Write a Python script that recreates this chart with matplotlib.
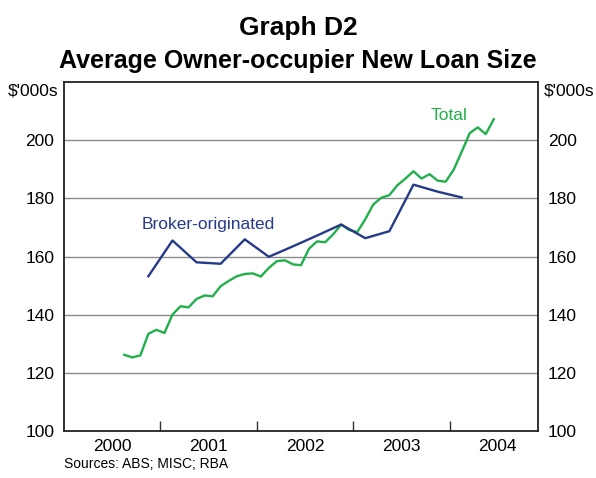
import numpy as np
import pandas as pd
import matplotlib
matplotlib.use("Agg")
from matplotlib import pyplot as plt

plt.rcParams['font.family'] = ['Liberation Sans', 'DejaVu Sans']

# Monthly average loan size, all owner-occupier loans ($'000s)
total_months = pd.period_range('2000-08', '2004-06', freq='M')
total_values = [126.2, 125.3, 126.0, 133.4, 134.8,
                133.7, 140.0, 142.9, 142.5, 145.4, 146.6, 146.3, 149.8, 151.6, 153.2, 154.0, 154.2,
                153.1, 156.1, 158.4, 158.7, 157.3, 157.0, 162.7, 165.2, 164.9, 167.6, 171.0, 169.1,
                168.4, 172.8, 177.9, 180.2, 181.1, 184.5, 186.8, 189.3, 186.8, 188.3, 186.1, 185.7,
                189.8, 196.0, 202.4, 204.4, 202.1, 207.2]

# Quarterly broker-originated loans, plotted at mid-quarter month
broker_months = pd.period_range('2000-11', '2004-02', freq='3M')
broker_values = [153.2, 165.5, 158.0, 157.5, 165.9, 159.9, 163.5,
                 167.2, 171.0, 166.3, 168.7, 184.7, 182.3, 180.3]

years = [2000, 2001, 2002, 2003, 2004]
y_ticks = [100, 120, 140, 160, 180, 200]


def to_x(periods):
    return np.array([p.year + (p.month - 0.5) / 12 for p in periods])


green = '#21b04b'
navy = '#263a8a'

fig = plt.figure(figsize=(5.96, 4.78), dpi=100)
ax = fig.add_axes([64 / 596, 47 / 478, 474 / 596, 349 / 478])

ax.plot(to_x(total_months), total_values, color=green, lw=1.7)
ax.plot(to_x(broker_months), broker_values, color=navy, lw=1.7)

ax.set_xlim(2000, 2000 + 59 / 12)
ax.set_ylim(100, 220)

for v in [120, 140, 160, 180, 200]:
    ax.axhline(v, color='#8a8a8a', lw=1.0, zorder=0)

# year ticks at boundaries, labels centred on the year
ax.set_xticks([y + 1 for y in years[:-1]])
ax.set_xticklabels([])
ax.set_xticks([y + 0.5 for y in years], minor=True)
ax.set_xticklabels([str(y) for y in years], minor=True, fontsize=12.5)
ax.tick_params(axis='x', which='major', direction='in', length=7, width=1, color='#333333')
ax.tick_params(axis='x', which='minor', length=0, pad=6)

ax.set_yticks(y_ticks)
ax.tick_params(axis='y', which='major', length=0, labelsize=12.5, pad=7,
               labelleft=True, labelright=True)

for s in ax.spines.values():
    s.set_linewidth(1.3)
    s.set_color('#222222')

fig.text(58 / 596, 1 - 91 / 478, "$'000s", ha='right', va='center', fontsize=12.5)
fig.text(544 / 596, 1 - 91 / 478, "$'000s", ha='left', va='center', fontsize=12.5)

ax.text(2003.99, 208.5, 'Total', color=green, fontsize=12.5, ha='center', va='center')
ax.text(2001.50, 171.0, 'Broker-originated', color=navy, fontsize=12.5, ha='center', va='center')

fig.text(0.5, 1 - 35 / 478, 'Graph D2', ha='center', va='baseline', fontsize=19, fontweight='bold')
fig.text(0.5, 1 - 68 / 478, 'Average Owner-occupier New Loan Size', ha='center', va='baseline',
         fontsize=18, fontweight='bold')
fig.text(64 / 596, 1 - 464 / 478, 'Sources: ABS; MISC; RBA', ha='left', va='center', fontsize=10)

fig.savefig('out.png', dpi=100)
